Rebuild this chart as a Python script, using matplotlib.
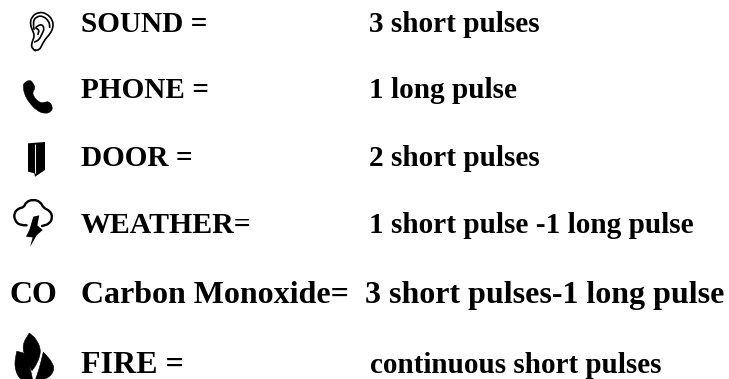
import matplotlib
matplotlib.use('Agg')
import matplotlib.pyplot as plt
from matplotlib.patches import PathPatch, Polygon
from matplotlib.path import Path

labels = ['SOUND =', 'PHONE =', 'DOOR =', 'WEATHER=', 'Carbon Monoxide=', 'FIRE =']
codes = ['3 short pulses', '1 long pulse', '2 short pulses', '1 short pulse -1 long pulse',
         '3 short pulses-1 long pulse', 'continuous short pulses']
baselines = [32, 98, 166, 233, 303, 373]
code_x = [369, 369, 369, 369, 365, 370]
label_size = [21.1, 21.1, 21.1, 21.5, 23, 23]
code_size = [21.1, 21.1, 21.1, 21.1, 23, 21.0]

# icon outlines, in coordinates of a 3x enlargement of the picture
ear_lines = [
    [(106, 152), (94, 145), (96, 125), (104, 108), (98, 92), (90, 72), (95, 50), (115, 36), (140, 40),
     (158, 60), (160, 82), (150, 102), (135, 118), (126, 135), (118, 150), (104, 151)],
    [(102, 88), (98, 65), (110, 49), (130, 48), (148, 65), (149, 82)],
    [(108, 82), (122, 70), (134, 84), (126, 102), (117, 120), (104, 126)],
    [(108, 85), (118, 88), (114, 103)],
]
phone = [(70, 258), (71, 250), (88, 239), (99, 248), (106, 265), (97, 276), (102, 292), (120, 309), (134, 307),
         (147, 304), (158, 320), (155, 334), (136, 342), (110, 332), (86, 306), (72, 280)]
door = [(84, 430), (135, 426), (135, 510), (105, 530), (103, 520), (84, 515)]
door_gap = [(106, 432), (106, 518)]
cloud = [(80, 676), (58, 676), (44, 660), (42, 640), (55, 625), (72, 622), (78, 606), (100, 598),
         (122, 606), (130, 624), (150, 632), (158, 652), (148, 672), (126, 678)]
bolt = [(100, 650), (118, 646), (112, 676), (128, 690), (110, 706), (90, 741), (98, 712), (78, 710), (88, 690)]
leaves = [
    [(88, 999), (88, 999), (110, 1018), (124, 1052), (112, 1090), (96, 1112), (96, 1112), (76, 1075), (66, 1035)],
    [(50, 1054), (50, 1054), (78, 1060), (90, 1100), (98, 1140), (98, 1140), (60, 1142), (42, 1100)],
    [(160, 1090), (130, 1056), (130, 1056), (118, 1105), (106, 1140), (106, 1140), (140, 1138), (162, 1115)],
]


def px(points):
    return [(x / 3, y / 3) for x, y in points]


def smooth(points, closed=True):
    pts = px(points)
    mid = [((a[0] + b[0]) / 2, (a[1] + b[1]) / 2) for a, b in zip(pts, pts[1:] + pts[:1])]
    if closed:
        verts = [mid[-1]]
        kinds = [Path.MOVETO]
        for i in range(len(pts)):
            verts += [pts[i], mid[i]]
            kinds += [Path.CURVE3, Path.CURVE3]
    else:
        verts = [pts[0]]
        kinds = [Path.MOVETO]
        for i in range(1, len(pts) - 1):
            verts += [pts[i], mid[i]]
            kinds += [Path.CURVE3, Path.CURVE3]
        verts.append(pts[-1])
        kinds.append(Path.LINETO)
    return Path(verts, kinds)


plt.rcParams['font.family'] = ['Liberation Serif', 'DejaVu Serif']
fig = plt.figure(figsize=(7.29, 3.79), dpi=100)
ax = fig.add_axes([0, 0, 1, 1])
ax.set_xlim(0, 729)
ax.set_ylim(379, 0)
ax.axis('off')

for i in range(len(labels)):
    ax.text(81, baselines[i], labels[i], fontsize=label_size[i], fontweight='bold', va='baseline', ha='left')
    ax.text(code_x[i], baselines[i], codes[i], fontsize=code_size[i], fontweight='bold', va='baseline', ha='left')
ax.text(10, 303, 'CO', fontsize=23, fontweight='bold', va='baseline', ha='left')

for line in ear_lines:
    ax.add_patch(PathPatch(smooth(line, closed=False), fill=False, ec='black', lw=1.2, capstyle='round'))
ax.add_patch(PathPatch(smooth(phone), fc='black', ec='black', lw=0.4))
ax.add_patch(Polygon(px(door), closed=True, fc='black', ec='none'))
ax.add_patch(Polygon(px(door_gap), closed=False, fill=False, ec='white', lw=0.7))
ax.add_patch(PathPatch(smooth(cloud, closed=False), fill=False, ec='black', lw=1.7, capstyle='round'))
ax.add_patch(Polygon(px(bolt), closed=True, fc='black', ec='none'))
for leaf in leaves:
    ax.add_patch(PathPatch(smooth(leaf), fc='black', ec='black', lw=0.4))

fig.savefig('out.png', dpi=100)
